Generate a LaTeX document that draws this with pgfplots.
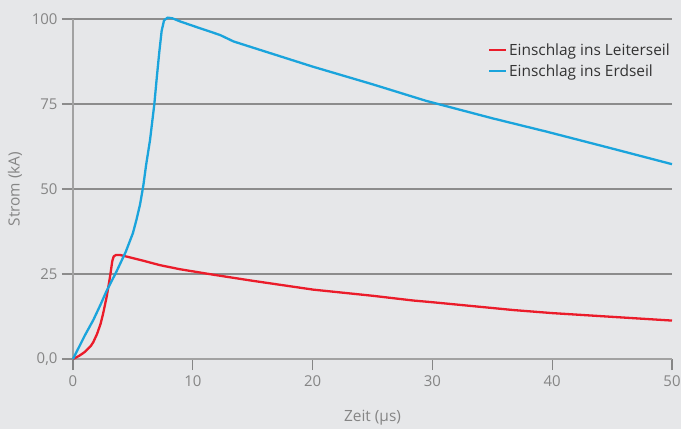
\documentclass[border=0pt]{standalone}
\usepackage{fontspec}
\setmainfont{Open Sans}
\usepackage{pgfplots}
\pgfplotsset{compat=1.18}
\definecolor{bg}{HTML}{E6E7E9}
\definecolor{gridc}{HTML}{8C8C8C}
\definecolor{axisc}{HTML}{A2A2A2}
\definecolor{tickc}{HTML}{858585}
\definecolor{redc}{HTML}{EB1C2A}
\definecolor{bluec}{HTML}{1AA4DC}
\begin{document}
\begin{tikzpicture}
\fill[bg] (-73bp,-70bp) rectangle (608bp,359bp);
\begin{axis}[
  at={(0,0)}, anchor=origin,
  scale only axis, width=599bp, height=340bp,
  xmin=0, xmax=50, ymin=0, ymax=100,
  xtick={0,10,20,30,40,50},
  ytick={0,25,50,75,100},
  yticklabels={{0,0},25,50,75,100},
  axis x line*=bottom, axis y line*=left,
  x axis line style={draw=axisc, line width=1.6bp, -},
  y axis line style={draw=axisc, line width=1.6bp, -},
  ymajorgrids, major grid style={draw=gridc, line width=1.1bp},
  xtick style={draw=tickc, line width=1.1bp},
  ytick style={draw=gridc, line width=1.1bp},
  xtick align=outside, ytick align=outside,
  major tick length=11bp,
  tick label style={font=\fontsize{15}{17}\selectfont, text=tickc},
  /pgf/number format/assume math mode=true,
  xticklabel style={yshift=-2bp},
  yticklabel style={xshift=-1bp},
  xlabel={Zeit (µs)}, ylabel={Strom (kA)},
  label style={font=\fontsize{15.5}{18}\selectfont, text=tickc},
  xlabel style={at={(axis description cs:0.5,-0.1735)}, anchor=center},
  ylabel style={at={(axis description cs:-0.0968,0.5)}, anchor=center, rotate=0},
  legend style={draw=none, fill=none, at={(1,0.935)}, anchor=north east,
    font=\fontsize{15.5}{18}\selectfont, text=black!80, row sep=4bp,
    inner sep=0pt},
  legend cell align=left,
  legend image code/.code={\draw[#1, line width=2bp] (0bp,0bp) -- (17bp,0bp);},
  clip=false,
]
\addplot[redc, line width=2.3bp, line join=round] coordinates {
(0,0)(0.5,0.9)(1,2.1)(1.5,3.9)(1.7,5)(2,7.3)(2.3,10.3)(2.53,13.6)(2.81,18.3)(3.09,24.2)(3.28,28.8)(3.4,30.2)(3.6,30.6)(3.92,30.6)(4.5,30.1)(5.87,28.9)(7.26,27.6)(8.93,26.4)(11.7,24.8)(15,23.0)(20.06,20.4)(25,18.6)(28.4,17.2)(30,16.7)(35,15.0)(36.75,14.4)(40,13.5)(45,12.4)(50,11.3)
};
\addlegendentry{Einschlag ins Leiterseil}
\addplot[bluec, line width=2.3bp, line join=round] coordinates {
(0,0)(0.5,3.5)(1,7)(1.7,11.5)(2.3,16)(2.8,20)(3.6,25.5)(4.4,31.5)(5.0,37)(5.3,41)(5.6,45.5)(5.87,51)(6.1,57)(6.43,64.4)(6.79,75)(7.0,83)(7.21,90.5)(7.4,96.5)(7.6,99.6)(7.9,100.4)(8.3,100.2)(8.93,99.3)(10,98)(12.27,95.3)(13.4,93.4)(15,91.6)(20,86)(25,80.8)(29.5,75.9)(35,70.8)(39.5,66.9)(45,61.9)(50,57.3)
};
\addlegendentry{Einschlag ins Erdseil}
\end{axis}
\pgfresetboundingbox
\path (-73bp,-70bp) rectangle (608bp,359bp);
\end{tikzpicture}
\end{document}
